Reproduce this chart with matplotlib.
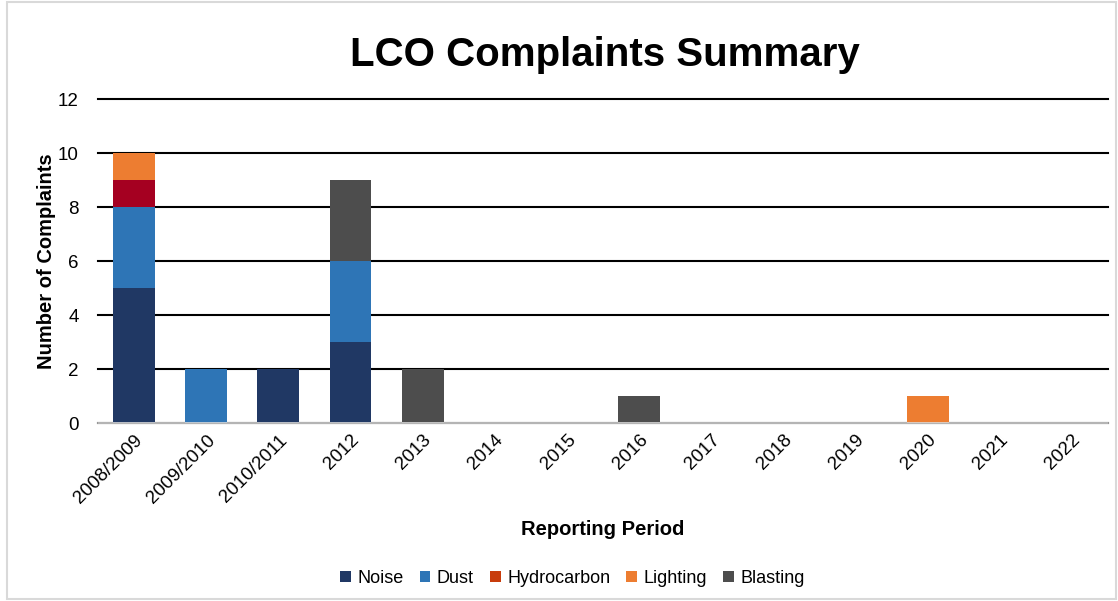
import matplotlib.pyplot as plt
import numpy as np
from matplotlib.patches import Patch, Rectangle

plt.rcParams['font.family'] = ['Liberation Sans', 'DejaVu Sans']

periods = ['2008/2009', '2009/2010', '2010/2011', '2012', '2013', '2014',
           '2015', '2016', '2017', '2018', '2019', '2020', '2021', '2022']
noise = [5, 0, 2, 3, 0, 0, 0, 0, 0, 0, 0, 0, 0, 0]
dust = [3, 2, 0, 3, 0, 0, 0, 0, 0, 0, 0, 0, 0, 0]
hydrocarbon = [1, 0, 0, 0, 0, 0, 0, 0, 0, 0, 0, 0, 0, 0]
lighting = [1, 0, 0, 0, 0, 0, 0, 0, 0, 0, 0, 1, 0, 0]
blasting = [0, 0, 0, 3, 2, 0, 0, 1, 0, 0, 0, 0, 0, 0]

series = [('Noise', noise, '#203864', '#203864'),
          ('Dust', dust, '#2E75B6', '#2E75B6'),
          ('Hydrocarbon', hydrocarbon, '#A50021', '#C83C0C'),
          ('Lighting', lighting, '#ED7D31', '#ED7D31'),
          ('Blasting', blasting, '#4D4D4D', '#4D4D4D')]

fig = plt.figure(figsize=(11.18, 6.01), dpi=100)
ax = fig.add_axes([0.0877, 0.296, 0.9033, 0.539])

x = np.arange(len(periods))
bottom = np.zeros(len(periods))
handles = []
for name, vals, color, legend_color in series:
    vals = np.array(vals, dtype=float)
    ax.bar(x, vals, 0.58, bottom=bottom, color=color, zorder=3)
    bottom += vals
    handles.append(Patch(facecolor=legend_color, label=name))

ax.set_xlim(-0.5, len(periods) - 0.5)
ax.set_ylim(0, 12)
ax.set_yticks(range(0, 13, 2))
ax.grid(axis='y', color='black', linewidth=1.5, zorder=0)
for line in ax.get_ygridlines():
    line.set_clip_on(False)
for side in ['top', 'right', 'left']:
    ax.spines[side].set_visible(False)
ax.spines['bottom'].set_color('#D9D9D9')
ax.spines['bottom'].set_linewidth(1.2)
ax.spines['bottom'].set_zorder(4)
ax.tick_params(axis='both', length=0, labelsize=13.5)
ax.tick_params(axis='y', pad=14)
ax.tick_params(axis='x', pad=6)
ax.set_xticks(x)
ax.set_xticklabels(periods, rotation=45, ha='right', rotation_mode='anchor')

ax.set_ylabel('Number of Complaints', fontsize=14.5, fontweight='bold', labelpad=1)
ax.set_xlabel('Reporting Period', fontsize=14.5, fontweight='bold', labelpad=10)
fig.suptitle('LCO Complaints Summary', fontsize=29, fontweight='bold',
             x=0.541, y=0.908, va='center')

fig.legend(handles=handles, loc='center', bbox_to_anchor=(0.512, 0.038),
           ncol=5, frameon=False, fontsize=13, handlelength=0.6,
           handleheight=0.6, handletextpad=0.35, columnspacing=0.9)

# thin light border around the whole figure
fig.patches.append(Rectangle((0.006, 0.003), 0.992, 0.994,
                             transform=fig.transFigure, fill=False,
                             edgecolor='#D9D9D9', linewidth=1.5))

fig.savefig('out.png', dpi=100)
